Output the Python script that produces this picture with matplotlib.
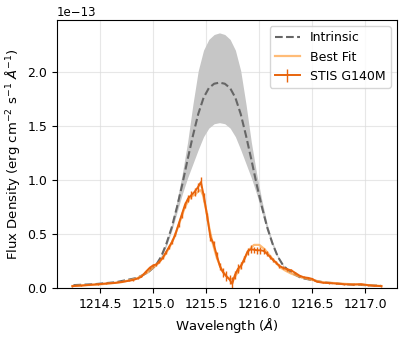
import matplotlib
matplotlib.use("Agg")
import matplotlib.pyplot as plt
import numpy as np

# intrinsic Lya profile and its uncertainty band (units of 1e-13)
intr_wave = [1214.25, 1214.45, 1214.65, 1214.85, 1214.95, 1215.025, 1215.075, 1215.125,
             1215.175, 1215.225, 1215.275, 1215.325, 1215.375, 1215.425, 1215.475, 1215.525,
             1215.575, 1215.625, 1215.675, 1215.725, 1215.775, 1215.825, 1215.875, 1215.925,
             1215.975, 1216.025, 1216.075, 1216.125, 1216.175, 1216.225, 1216.295, 1216.395,
             1216.595, 1216.795, 1216.995, 1217.145]
intr_flux = [0.028, 0.037, 0.055, 0.095, 0.145, 0.21, 0.29, 0.41,
             0.56, 0.75, 0.96, 1.19, 1.41, 1.61, 1.76, 1.85,
             1.89, 1.90, 1.89, 1.85, 1.76, 1.61, 1.41, 1.19,
             0.96, 0.75, 0.56, 0.41, 0.29, 0.21, 0.145, 0.095,
             0.055, 0.037, 0.028, 0.022]
intr_hi = [0.028, 0.037, 0.056, 0.098, 0.15, 0.215, 0.30, 0.43,
           0.59, 0.81, 1.06, 1.35, 1.70, 2.01, 2.20, 2.30,
           2.345, 2.36, 2.345, 2.30, 2.20, 2.01, 1.70, 1.35,
           1.06, 0.81, 0.59, 0.43, 0.30, 0.215, 0.15, 0.098,
           0.056, 0.037, 0.028, 0.022]
intr_lo = [0.028, 0.037, 0.054, 0.092, 0.14, 0.205, 0.28, 0.39,
           0.53, 0.70, 0.87, 1.02, 1.15, 1.28, 1.40, 1.48,
           1.52, 1.53, 1.52, 1.48, 1.40, 1.28, 1.15, 1.02,
           0.87, 0.70, 0.53, 0.39, 0.28, 0.205, 0.14, 0.092,
           0.054, 0.037, 0.028, 0.022]

# observed STIS G140M spectrum
obs_wave = [1214.24, 1214.32, 1214.40, 1214.48, 1214.56, 1214.64, 1214.71, 1214.77,
            1214.81, 1214.86, 1214.89, 1214.93, 1214.97, 1215.00, 1215.03, 1215.06,
            1215.09, 1215.12, 1215.15, 1215.18, 1215.21, 1215.24, 1215.27, 1215.30,
            1215.33, 1215.36, 1215.39, 1215.42, 1215.45, 1215.48, 1215.51, 1215.54,
            1215.57, 1215.60, 1215.63, 1215.66, 1215.69, 1215.72, 1215.745, 1215.77,
            1215.80, 1215.83, 1215.86, 1215.89, 1215.92, 1215.95, 1215.98, 1216.01,
            1216.04, 1216.07, 1216.10, 1216.13, 1216.16, 1216.19, 1216.22, 1216.26,
            1216.30, 1216.34, 1216.38, 1216.42, 1216.46, 1216.50, 1216.54, 1216.60,
            1216.66, 1216.72, 1216.80, 1216.88, 1216.96, 1217.02, 1217.08, 1217.15]
obs_flux = [0.019, 0.024, 0.030, 0.036, 0.043, 0.048, 0.058, 0.068,
            0.075, 0.092, 0.105, 0.15, 0.19, 0.21, 0.22, 0.245,
            0.28, 0.33, 0.38, 0.43, 0.50, 0.59, 0.68, 0.77,
            0.83, 0.86, 0.89, 0.93, 0.98, 0.84, 0.66, 0.47,
            0.41, 0.30, 0.20, 0.145, 0.11, 0.08, 0.04, 0.12,
            0.18, 0.21, 0.27, 0.34, 0.36, 0.355, 0.35, 0.35,
            0.345, 0.32, 0.29, 0.26, 0.235, 0.205, 0.19, 0.175,
            0.165, 0.14, 0.115, 0.10, 0.095, 0.085, 0.06, 0.05,
            0.047, 0.043, 0.036, 0.033, 0.037, 0.028, 0.022, 0.019]
obs_err = [0.004, 0.004, 0.004, 0.004, 0.004, 0.004, 0.005, 0.005,
           0.005, 0.006, 0.006, 0.008, 0.01, 0.012, 0.012, 0.014,
           0.015, 0.018, 0.02, 0.02, 0.022, 0.025, 0.028, 0.03,
           0.035, 0.035, 0.04, 0.04, 0.045, 0.04, 0.035, 0.03,
           0.03, 0.03, 0.035, 0.04, 0.045, 0.04, 0.06, 0.04,
           0.04, 0.035, 0.03, 0.03, 0.035, 0.03, 0.03, 0.03,
           0.025, 0.02, 0.02, 0.018, 0.015, 0.015, 0.015, 0.015,
           0.015, 0.012, 0.01, 0.01, 0.01, 0.008, 0.006, 0.005,
           0.005, 0.005, 0.004, 0.004, 0.004, 0.004, 0.004, 0.004]

# best-fit model
fit_wave = [1214.24, 1214.50, 1214.70, 1214.85, 1214.95, 1215.00, 1215.05, 1215.10,
            1215.15, 1215.20, 1215.25, 1215.30, 1215.35, 1215.40, 1215.43, 1215.45,
            1215.47, 1215.50, 1215.53, 1215.56, 1215.60, 1215.65, 1215.70, 1215.73,
            1215.76, 1215.80, 1215.85, 1215.90, 1215.95, 1216.00, 1216.05, 1216.10,
            1216.15, 1216.20, 1216.25, 1216.30, 1216.40, 1216.50, 1216.60, 1216.80,
            1217.00, 1217.15]
fit_flux = [0.02, 0.035, 0.055, 0.09, 0.15, 0.19, 0.23, 0.29,
            0.37, 0.47, 0.61, 0.75, 0.84, 0.87, 0.90, 0.905,
            0.86, 0.72, 0.55, 0.42, 0.28, 0.16, 0.10, 0.08,
            0.09, 0.15, 0.25, 0.35, 0.40, 0.40, 0.36, 0.30,
            0.24, 0.19, 0.16, 0.135, 0.10, 0.075, 0.055, 0.04,
            0.03, 0.02]

scale = 1e-13

fig = plt.figure(figsize=(4.07, 3.39), dpi=100)
ax = fig.add_axes([0.14, 0.15, 0.835, 0.791])

ax.fill_between(intr_wave, np.array(intr_lo) * scale, np.array(intr_hi) * scale,
                color='#c6c6c6', lw=0)
ax.plot(intr_wave, np.array(intr_flux) * scale, '--', color='#666666', lw=1.5,
        label='Intrinsic')
ax.plot(fit_wave, np.array(fit_flux) * scale, color='#ffab55', lw=1.6, alpha=0.8,
        label='Best Fit')
ax.errorbar(obs_wave, np.array(obs_flux) * scale, yerr=np.array(obs_err) * scale,
            color='#e8640c', lw=1.4, elinewidth=1.0, capsize=0, label='STIS G140M')

ax.set_ylim(bottom=0)
ax.ticklabel_format(axis='x', useOffset=False)
ax.set_xticks([1214.5, 1215.0, 1215.5, 1216.0, 1216.5, 1217.0])
ax.grid(True, color='#dddddd', lw=0.8, alpha=0.7)
ax.set_axisbelow(True)

ax.set_xlabel(r'Wavelength ($\AA$)', fontsize=9.5)
ax.set_ylabel(r'Flux Density (erg cm$^{-2}$ s$^{-1}$ $\AA^{-1}$)', fontsize=9.5)
ax.tick_params(labelsize=9)
ax.yaxis.get_offset_text().set_fontsize(8.5)
ax.legend(loc='upper right', fontsize=9)

fig.savefig('out.png', dpi=100)
